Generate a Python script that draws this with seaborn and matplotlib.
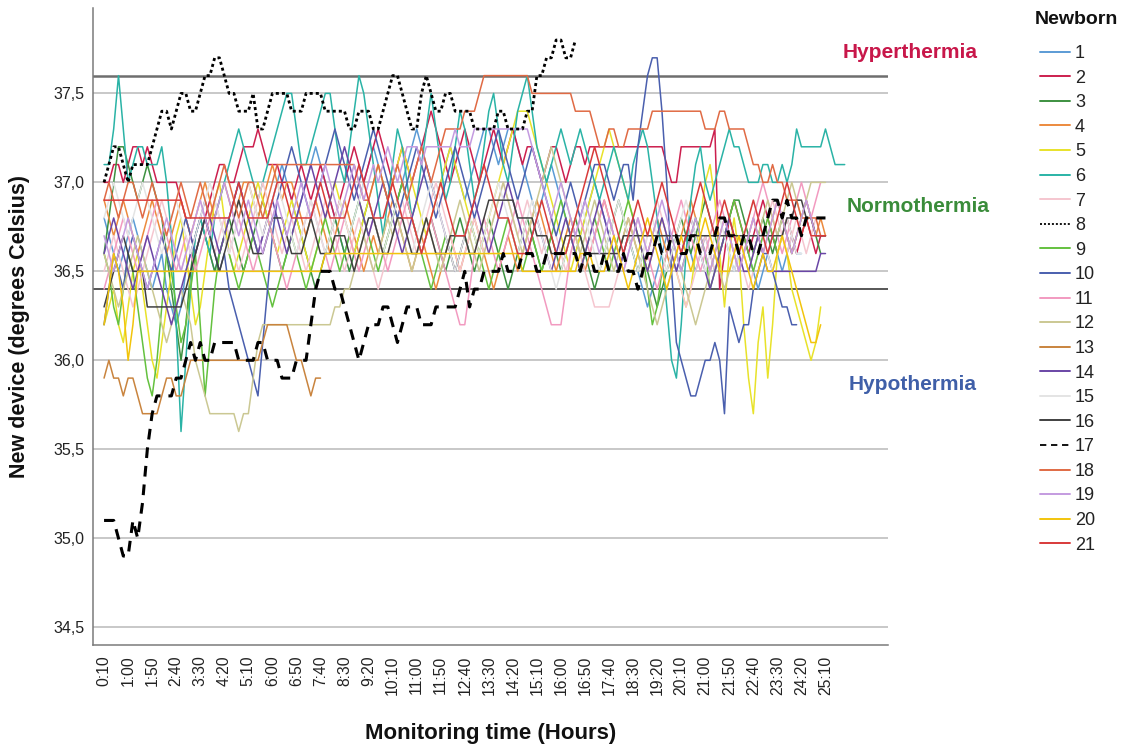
import matplotlib
matplotlib.use("Agg")
import matplotlib.pyplot as plt
import pandas as pd
import seaborn as sns
from matplotlib.lines import Line2D

# one reading every 10 minutes, first reading at 0:10
START_MIN = 10
STEP_MIN = 10

nb01 = [36.8, 36.7, 36.6, 36.5, 36.6, 36.7, 36.8, 36.7, 36.6, 36.5,
        36.4, 36.5, 36.6, 36.4, 36.3, 36.2, 36.3, 36.5, 36.6, 36.7,
        36.8, 36.7, 36.6, 36.5, 36.6, 36.7, 36.8, 36.9, 37.0, 36.9,
        36.8, 36.7, 36.6, 36.7, 36.8, 36.9, 37.0, 37.1, 37.0, 36.9,
        36.8, 36.9, 37.0, 37.1, 37.2, 37.1, 37.0, 36.9, 36.8, 36.7,
        36.6, 36.7, 36.8, 36.9, 37.0, 37.1, 37.2, 37.1, 37.0, 36.9,
        36.8, 36.9, 37.0, 37.1, 37.2, 37.3, 37.2, 37.1, 37.0, 36.9,
        37.0, 37.1, 37.2, 37.1, 37.0, 36.9, 37.0, 37.1, 37.2, 37.3,
        37.3, 37.2, 37.1, 37.2, 37.3, 37.3, 37.2, 37.1, 37.0, 36.9,
        36.8, 36.9, 37.0, 37.1, 37.0, 36.9, 36.8, 36.7, 36.6, 36.7,
        36.8, 36.9, 37.0, 36.9, 36.8, 36.7, 36.6, 36.5, 36.6, 36.7,
        36.6, 36.5, 36.4, 36.3, 36.4, 36.5, 36.6, 36.7, 36.6, 36.5,
        36.6, 36.7, 36.6, 36.5, 36.6, 36.7, 36.6, 36.5, 36.6, 36.7,
        36.6, 36.5, 36.6, 36.7, 36.6, 36.5, 36.4, 36.5, 36.6, 36.7,
        36.6, 36.5, 36.6, 36.7, 36.6, 36.6]

nb02 = [37.0, 37.0, 37.1, 37.1, 37.0, 37.1, 37.2, 37.2, 37.1, 37.2,
        37.1, 37.0, 37.0, 37.0, 37.0, 37.0, 36.9, 36.8, 36.7, 36.6,
        36.7, 36.8, 36.9, 37.0, 37.1, 37.1, 37.0, 37.0, 37.1, 37.2,
        37.2, 37.2, 37.3, 37.2, 37.1, 37.1, 37.1, 37.0, 37.0, 36.9,
        37.0, 37.1, 37.0, 36.9, 37.0, 37.1, 37.0, 36.9, 36.8, 36.9,
        37.0, 37.1, 37.2, 37.1, 37.0, 37.1, 37.2, 37.3, 37.2, 37.1,
        37.0, 37.1, 37.2, 37.1, 37.0, 37.1, 37.2, 37.3, 37.4, 37.3,
        37.2, 37.1, 37.0, 37.1, 37.2, 37.3, 37.2, 37.1, 37.0, 37.1,
        37.2, 37.3, 37.2, 37.1, 37.2, 37.3, 37.2, 37.1, 37.2, 37.2,
        37.1, 37.0, 37.1, 37.2, 37.2, 37.1, 37.0, 37.1, 37.2, 37.2,
        37.1, 37.2, 37.2, 37.2, 37.2, 37.2, 37.2, 37.2, 37.2, 37.2,
        37.2, 37.2, 37.2, 37.2, 37.2, 37.2, 37.2, 37.1, 37.0, 37.0,
        37.2, 37.2, 37.2, 37.2, 37.2, 37.2, 37.2, 37.3, 36.4, 36.6,
        36.8, 36.9, 36.8, 36.7, 36.6, 36.7, 36.8, 36.9, 36.8, 36.7,
        36.6, 36.7, 36.8, 36.7, 36.6, 36.7, 36.8, 36.7, 36.6, 36.7,
        36.7]

nb03 = [36.6, 36.8, 37.0, 37.2, 37.2, 37.1, 37.0, 36.9, 37.0, 37.1,
        37.0, 36.9, 36.8, 36.6, 36.4, 36.2, 36.0, 36.2, 36.5, 36.7,
        36.8, 36.7, 36.6, 36.5, 36.6, 36.7, 36.8, 36.7, 36.6, 36.5,
        36.6, 36.7, 36.8, 36.9, 36.8, 36.7, 36.6, 36.5, 36.6, 36.7,
        36.8, 36.7, 36.6, 36.5, 36.4, 36.5, 36.6, 36.7, 36.8, 36.7,
        36.6, 36.5, 36.6, 36.7, 36.8, 36.9, 36.8, 36.7, 36.6, 36.7,
        36.8, 36.9, 37.0, 36.9, 36.8, 36.7, 36.6, 36.7, 36.8, 36.7,
        36.6, 36.5, 36.6, 36.7, 36.8, 36.7, 36.6, 36.5, 36.6, 36.7,
        36.8, 36.7, 36.6, 36.5, 36.4, 36.5, 36.6, 36.7, 36.8, 36.7,
        36.6, 36.5, 36.6, 36.7, 36.6, 36.5, 36.6, 36.7, 36.8, 36.7,
        36.6, 36.5, 36.4, 36.5, 36.6, 36.7, 36.8, 36.9, 36.8, 36.7,
        36.6, 36.5, 36.6, 36.5, 36.4, 36.3, 36.4, 36.5, 36.6, 36.7,
        36.8, 36.7, 36.6, 36.7, 36.8, 36.9, 36.8, 36.7, 36.6, 36.7,
        36.8, 36.9, 36.9, 36.8, 36.7, 36.6, 36.7, 36.8, 36.7, 36.6,
        36.7, 36.8, 36.7, 36.6, 36.7, 36.8, 36.9, 36.8, 36.7, 36.6]

nb04 = [36.9, 36.8, 36.7, 36.8, 36.9, 36.8, 36.7, 36.6, 36.7, 36.8,
        36.9, 36.8, 36.7, 36.6, 36.7, 36.8, 36.9, 36.8, 36.7, 36.8,
        36.9, 37.0, 36.9, 36.8, 36.9, 37.0, 36.9, 36.8, 36.9, 37.0,
        37.0, 36.9, 36.8, 36.9, 37.0, 37.1, 37.0, 36.9, 37.0, 37.0,
        36.9, 36.8, 36.7, 36.8, 36.9, 36.8, 36.7, 36.6, 36.7, 36.8,
        36.9, 36.8, 36.7, 36.6, 36.5, 36.6, 36.7, 36.6, 36.7, 36.8,
        36.9, 36.8, 36.7, 36.6, 36.5, 36.6, 36.7, 36.6, 36.5, 36.4,
        36.5, 36.6, 36.7, 36.6, 36.5, 36.6, 36.7, 36.8, 36.7, 36.6,
        36.5, 36.4, 36.5, 36.6, 36.7, 36.6, 36.5, 36.6, 36.7, 36.8,
        36.9, 36.8, 36.7, 36.6, 36.5, 36.6, 36.7, 36.8, 36.7, 36.6,
        36.5, 36.6, 36.7, 36.8, 36.9, 36.8, 36.7, 36.6, 36.7, 36.8,
        36.7, 36.6, 36.5, 36.6, 36.7, 36.8, 36.7, 36.6, 36.5, 36.6,
        36.7, 36.8, 36.9, 36.8, 36.7, 36.6, 36.5, 36.6, 36.7, 36.8,
        36.7, 36.6, 36.5, 36.6, 36.7, 36.8, 36.7, 36.6, 36.7, 36.8,
        36.9, 36.8, 36.7, 36.6, 36.7, 36.8, 36.9, 36.8, 36.7, 36.8,
        36.7]

nb05 = [36.2, 36.3, 36.4, 36.2, 36.1, 36.3, 36.5, 36.6, 36.4, 36.2,
        36.0, 35.9, 36.1, 36.3, 36.5, 36.7, 36.8, 36.6, 36.4, 36.2,
        36.3, 36.5, 36.7, 36.9, 37.0, 36.8, 36.6, 36.5, 36.6, 36.7,
        36.8, 36.9, 37.0, 36.9, 36.8, 36.7, 36.6, 36.7, 36.8, 36.9,
        36.8, 36.7, 36.6, 36.5, 36.6, 36.7, 36.8, 36.9, 37.0, 36.9,
        36.8, 36.7, 36.6, 36.7, 36.8, 36.9, 37.0, 37.1, 37.0, 36.9,
        37.0, 37.1, 37.2, 37.1, 37.0, 36.9, 36.8, 36.7, 36.8, 36.9,
        37.0, 37.1, 37.2, 37.1, 37.0, 36.9, 36.8, 36.7, 36.6, 36.7,
        36.8, 36.9, 37.0, 37.1, 37.2, 37.3, 37.4, 37.4, 37.4, 37.3,
        37.2, 37.1, 37.0, 36.9, 36.8, 36.7, 36.6, 36.5, 36.6, 36.7,
        36.8, 36.9, 37.0, 37.1, 37.2, 37.3, 37.2, 37.1, 37.0, 36.9,
        36.8, 36.7, 36.6, 36.5, 36.6, 36.7, 36.8, 36.7, 36.6, 36.5,
        36.4, 36.3, 36.4, 36.6, 36.8, 37.0, 37.1, 36.9, 36.6, 36.3,
        36.6, 36.8, 36.6, 36.2, 35.9, 35.7, 36.1, 36.3, 35.9, 36.2,
        36.6, 36.7, 36.6, 36.4, 36.3, 36.2, 36.1, 36.0, 36.1, 36.3]

nb06 = [37.1, 37.1, 37.3, 37.6, 37.3, 37.0, 37.1, 37.2, 37.2, 37.1,
        37.1, 37.1, 37.2, 37.0, 36.7, 36.2, 35.6, 36.0, 36.4, 36.7,
        36.8, 36.7, 36.6, 36.8, 36.9, 37.0, 37.1, 37.2, 37.3, 37.2,
        37.1, 37.0, 36.9, 37.0, 37.1, 37.2, 37.3, 37.4, 37.5, 37.5,
        37.3, 37.1, 37.1, 37.2, 37.3, 37.4, 37.5, 37.5, 37.3, 37.1,
        37.0, 37.2, 37.4, 37.6, 37.5, 37.3, 37.1, 36.9, 36.7, 36.9,
        37.1, 37.3, 37.2, 37.0, 36.8, 36.9, 37.1, 37.3, 37.5, 37.3,
        37.1, 36.9, 37.0, 37.2, 37.4, 37.3, 37.1, 36.9, 37.0, 37.2,
        37.4, 37.5, 37.3, 37.1, 37.0, 37.2, 37.4, 37.5, 37.6, 37.4,
        37.2, 37.1, 37.0, 37.1, 37.2, 37.3, 37.2, 37.1, 37.2, 37.3,
        37.2, 37.1, 37.0, 36.9, 37.0, 37.1, 37.2, 37.1, 37.0, 36.9,
        37.1, 37.2, 37.3, 37.2, 37.0, 36.8, 36.6, 36.3, 36.0, 35.9,
        36.2, 36.6, 36.9, 37.1, 37.2, 37.0, 36.9, 37.0, 37.1, 37.2,
        37.3, 37.2, 37.2, 37.1, 37.0, 37.0, 37.0, 37.1, 37.1, 37.0,
        37.0, 37.1, 37.0, 37.1, 37.3, 37.2, 37.2, 37.2, 37.2, 37.2,
        37.3, 37.2, 37.1, 37.1, 37.1]

nb07 = [36.5, 36.6, 36.7, 36.6, 36.5, 36.4, 36.3, 36.4, 36.5, 36.6,
        36.7, 36.8, 36.9, 36.8, 36.7, 36.6, 36.5, 36.6, 36.7, 36.8,
        36.9, 36.8, 36.7, 36.6, 36.7, 36.8, 36.7, 36.6, 36.5, 36.6,
        36.7, 36.8, 36.9, 37.0, 36.9, 36.8, 36.7, 36.6, 36.7, 36.8,
        36.7, 36.6, 36.5, 36.6, 36.7, 36.8, 36.9, 36.8, 36.7, 36.6,
        36.5, 36.6, 36.7, 36.8, 36.7, 36.6, 36.5, 36.4, 36.5, 36.6,
        36.7, 36.8, 36.9, 36.8, 36.7, 36.6, 36.7, 36.8, 36.9, 37.0,
        36.9, 36.8, 36.7, 36.6, 36.5, 36.6, 36.7, 36.8, 36.7, 36.6,
        36.7, 36.8, 36.9, 37.0, 36.9, 36.8, 36.7, 36.8, 36.9, 36.8,
        36.7, 36.6, 36.7, 36.8, 36.7, 36.6, 36.5, 36.6, 36.7, 36.6,
        36.5, 36.4, 36.3, 36.3, 36.3, 36.3, 36.4, 36.5, 36.6, 36.7,
        36.8, 36.7, 36.6, 36.7, 36.8, 36.9, 36.8, 36.7, 36.6, 36.5,
        36.4, 36.3, 36.4, 36.5, 36.6, 36.7, 36.6, 36.5, 36.6, 36.7,
        36.8, 36.7, 36.6, 36.5, 36.4, 36.5, 36.6, 36.7, 36.8, 36.9,
        36.8, 36.7, 36.6, 36.7, 36.8, 36.7, 36.6, 36.7, 36.8]

nb08 = [37.0, 37.1, 37.2, 37.2, 37.1, 37.0, 37.1, 37.1, 37.1, 37.1,
        37.2, 37.3, 37.4, 37.4, 37.3, 37.4, 37.5, 37.5, 37.4, 37.4,
        37.5, 37.6, 37.6, 37.7, 37.7, 37.6, 37.5, 37.5, 37.4, 37.4,
        37.4, 37.5, 37.3, 37.3, 37.4, 37.5, 37.5, 37.5, 37.5, 37.4,
        37.4, 37.4, 37.5, 37.5, 37.5, 37.5, 37.4, 37.4, 37.4, 37.4,
        37.4, 37.3, 37.3, 37.4, 37.4, 37.4, 37.3, 37.3, 37.4, 37.5,
        37.6, 37.6, 37.5, 37.4, 37.3, 37.3, 37.5, 37.6, 37.5, 37.4,
        37.4, 37.5, 37.5, 37.4, 37.4, 37.4, 37.4, 37.3, 37.3, 37.3,
        37.3, 37.3, 37.4, 37.4, 37.3, 37.3, 37.3, 37.3, 37.4, 37.4,
        37.6, 37.6, 37.7, 37.7, 37.8, 37.8, 37.7, 37.7, 37.8]

nb09 = [36.6, 36.5, 36.3, 36.2, 36.4, 36.6, 36.5, 36.3, 36.1, 35.9,
        35.8, 36.0, 36.3, 36.6, 36.5, 36.3, 36.1, 36.2, 36.4, 36.6,
        36.2, 35.8, 36.1, 36.4, 36.6, 36.7, 36.6, 36.5, 36.4, 36.5,
        36.6, 36.7, 36.6, 36.5, 36.4, 36.3, 36.4, 36.5, 36.6, 36.7,
        36.6, 36.5, 36.4, 36.5, 36.6, 36.7, 36.8, 36.7, 36.6, 36.5,
        36.6, 36.7, 36.8, 36.9, 36.8, 36.7, 36.6, 36.5, 36.6, 36.7,
        36.8, 36.9, 37.0, 36.9, 36.8, 36.7, 36.6, 36.5, 36.4, 36.5,
        36.6, 36.7, 36.6, 36.5, 36.6, 36.7, 36.8, 36.7, 36.6, 36.5,
        36.4, 36.5, 36.6, 36.7, 36.8, 36.7, 36.6, 36.5, 36.6, 36.7,
        36.6, 36.5, 36.6, 36.7, 36.8, 36.9, 36.8, 36.7, 36.6, 36.5,
        36.6, 36.7, 36.8, 36.7, 36.6, 36.5, 36.6, 36.7, 36.8, 36.9,
        36.8, 36.7, 36.6, 36.4, 36.2, 36.3, 36.5, 36.6, 36.7, 36.6,
        36.5, 36.6, 36.7, 36.8, 36.7, 36.6, 36.4, 36.5, 36.6, 36.7,
        36.8, 36.9, 36.8, 36.7, 36.6, 36.5, 36.6, 36.7, 36.8, 36.7,
        36.6]

nb10 = [36.2, 36.4, 36.6, 36.5, 36.4, 36.6, 36.7, 36.6, 36.5, 36.4,
        36.5, 36.6, 36.7, 36.6, 36.5, 36.6, 36.7, 36.8, 36.7, 36.6,
        36.7, 36.8, 36.7, 36.6, 36.5, 36.6, 36.4, 36.3, 36.2, 36.1,
        36.0, 35.9, 35.8, 36.1, 36.4, 36.7, 36.9, 37.0, 37.1, 37.2,
        37.1, 37.0, 36.9, 36.8, 36.9, 37.0, 37.1, 37.2, 37.3, 37.2,
        37.1, 37.0, 36.9, 37.0, 37.1, 37.2, 37.3, 37.2, 37.1, 37.0,
        36.9, 36.8, 36.9, 37.0, 37.1, 37.2, 37.1, 37.0, 36.9, 36.8,
        36.9, 37.0, 37.1, 37.2, 37.1, 37.0, 36.9, 36.8, 36.9, 37.0,
        37.1, 37.2, 37.3, 37.2, 37.1, 37.0, 36.9, 37.0, 37.1, 37.2,
        37.1, 37.0, 36.9, 36.8, 36.7, 36.8, 36.9, 37.0, 36.9, 36.8,
        36.9, 37.0, 37.1, 37.1, 37.1, 37.0, 36.9, 37.0, 37.1, 37.1,
        36.9, 37.2, 37.4, 37.6, 37.7, 37.7, 37.4, 37.0, 36.5, 36.1,
        36.0, 35.9, 35.8, 35.8, 35.9, 36.0, 36.0, 36.1, 36.0, 35.7,
        36.3, 36.2, 36.1, 36.2, 36.2, 36.4, 36.5, 36.6, 36.6, 36.5,
        36.4, 36.3, 36.3, 36.2, 36.2]

nb11 = [36.4, 36.5, 36.6, 36.7, 36.8, 36.7, 36.6, 36.5, 36.6, 36.7,
        36.8, 36.9, 36.8, 36.7, 36.6, 36.5, 36.6, 36.7, 36.6, 36.5,
        36.6, 36.7, 36.8, 36.9, 36.8, 36.7, 36.6, 36.7, 36.8, 36.7,
        36.6, 36.5, 36.6, 36.7, 36.8, 36.7, 36.6, 36.5, 36.4, 36.5,
        36.6, 36.7, 36.8, 36.9, 36.8, 36.7, 36.6, 36.5, 36.6, 36.7,
        36.8, 36.7, 36.6, 36.5, 36.6, 36.7, 36.8, 36.7, 36.6, 36.5,
        36.6, 36.7, 36.8, 36.9, 36.8, 36.7, 36.6, 36.7, 36.8, 36.7,
        36.6, 36.5, 36.4, 36.3, 36.2, 36.2, 36.4, 36.6, 36.7, 36.8,
        36.7, 36.6, 36.5, 36.6, 36.7, 36.8, 36.9, 36.8, 36.7, 36.6,
        36.5, 36.4, 36.3, 36.2, 36.2, 36.2, 36.4, 36.6, 36.7, 36.8,
        36.7, 36.6, 36.7, 36.8, 36.9, 36.8, 36.7, 36.6, 36.5, 36.6,
        36.7, 36.8, 36.7, 36.6, 36.5, 36.4, 36.5, 36.6, 36.7, 36.8,
        36.9, 36.8, 36.7, 36.6, 36.5, 36.6, 36.7, 36.8, 36.9, 36.8,
        36.7, 36.6, 36.5, 36.6, 36.7, 36.8, 36.9, 37.0, 36.9, 36.8,
        36.7, 36.6, 36.7, 36.8, 36.9, 37.0, 36.9, 36.8, 36.9, 37.0]

nb12 = [36.6, 36.5, 36.4, 36.3, 36.4, 36.5, 36.6, 36.7, 36.6, 36.5,
        36.4, 36.3, 36.2, 36.1, 36.2, 36.3, 36.4, 36.3, 36.2, 36.0,
        35.9, 35.8, 35.7, 35.7, 35.7, 35.7, 35.7, 35.7, 35.6, 35.7,
        35.7, 35.9, 36.1, 36.2, 36.2, 36.2, 36.2, 36.2, 36.2, 36.2,
        36.2, 36.2, 36.2, 36.2, 36.2, 36.2, 36.2, 36.2, 36.3, 36.3,
        36.4, 36.4, 36.5, 36.6, 36.7, 36.6, 36.5, 36.6, 36.7, 36.8,
        36.7, 36.8, 36.7, 36.6, 36.5, 36.6, 36.7, 36.8, 36.7, 36.6,
        36.5, 36.6, 36.7, 36.8, 36.9, 36.8, 36.7, 36.6, 36.5, 36.6,
        36.7, 36.8, 36.9, 37.0, 36.9, 36.8, 36.7, 36.6, 36.7, 36.8,
        36.9, 37.0, 37.1, 37.2, 37.1, 37.0, 36.9, 36.8, 36.7, 36.6,
        36.7, 36.8, 36.9, 36.8, 36.7, 36.6, 36.5, 36.6, 36.7, 36.8,
        36.7, 36.6, 36.5, 36.4, 36.3, 36.2, 36.3, 36.4, 36.5, 36.6,
        36.5, 36.4, 36.3, 36.2, 36.3, 36.4, 36.5, 36.6, 36.5, 36.4,
        36.5, 36.6, 36.7, 36.6, 36.5, 36.6, 36.7, 36.8, 36.9, 36.8,
        36.7, 36.8, 36.9, 37.0, 36.9, 36.8, 36.9, 37.0, 37.0, 37.0,
        37.0]

nb13 = [35.9, 36.0, 35.9, 35.9, 35.8, 35.9, 35.9, 35.8, 35.7, 35.7,
        35.7, 35.7, 35.8, 35.9, 35.9, 35.8, 35.8, 35.9, 36.0, 36.0,
        36.0, 36.0, 36.0, 36.0, 36.0, 36.0, 36.0, 36.0, 36.0, 36.0,
        36.0, 36.0, 36.0, 36.1, 36.2, 36.2, 36.2, 36.2, 36.2, 36.1,
        36.0, 36.0, 35.9, 35.8, 35.9, 35.9]

nb14 = [36.6, 36.7, 36.8, 36.7, 36.6, 36.5, 36.4, 36.5, 36.6, 36.7,
        36.6, 36.5, 36.4, 36.3, 36.2, 36.3, 36.4, 36.5, 36.6, 36.7,
        36.8, 36.9, 36.8, 36.7, 36.6, 36.7, 36.8, 36.9, 37.0, 36.9,
        36.8, 36.7, 36.6, 36.7, 36.8, 36.9, 36.8, 36.7, 36.6, 36.7,
        36.8, 36.9, 37.0, 37.1, 37.0, 36.9, 36.8, 36.9, 37.0, 37.1,
        37.2, 37.1, 37.0, 36.9, 36.8, 36.7, 36.8, 36.9, 37.0, 36.9,
        36.8, 36.7, 36.6, 36.7, 36.8, 36.9, 37.0, 37.1, 37.0, 36.9,
        36.8, 36.7, 36.6, 36.5, 36.6, 36.7, 36.8, 36.9, 36.8, 36.7,
        36.6, 36.7, 36.8, 36.9, 37.0, 36.9, 36.8, 36.7, 36.6, 36.7,
        36.8, 36.7, 36.6, 36.5, 36.6, 36.7, 36.8, 36.7, 36.6, 36.5,
        36.6, 36.7, 36.8, 36.9, 36.8, 36.7, 36.6, 36.5, 36.6, 36.7,
        36.8, 36.7, 36.6, 36.5, 36.6, 36.7, 36.8, 36.7, 36.6, 36.5,
        36.6, 36.7, 36.8, 36.7, 36.6, 36.5, 36.4, 36.5, 36.6, 36.7,
        36.8, 36.7, 36.6, 36.5, 36.5, 36.6, 36.7, 36.6, 36.5, 36.5,
        36.5, 36.5, 36.5, 36.5, 36.5, 36.5, 36.5, 36.5, 36.5, 36.6,
        36.6]

nb15 = [36.8, 36.9, 37.0, 36.9, 36.8, 36.7, 36.8, 36.9, 37.0, 36.9,
        36.8, 36.7, 36.6, 36.7, 36.8, 36.9, 36.8, 36.7, 36.6, 36.7,
        36.8, 36.9, 37.0, 36.9, 36.8, 36.7, 36.6, 36.7, 36.8, 36.9,
        37.0, 36.9, 36.8, 36.7, 36.8, 36.9, 37.0, 36.9, 36.8, 36.7,
        36.6, 36.7, 36.8, 36.9, 36.8, 36.7, 36.6, 36.7, 36.8, 36.9,
        36.8, 36.7, 36.8, 36.9, 37.0, 36.9, 36.8, 36.7, 36.6, 36.7,
        36.8, 36.9, 36.8, 36.7, 36.6, 36.7, 36.8, 36.9, 37.0, 36.9,
        36.8, 36.7, 36.6, 36.5, 36.6, 36.7, 36.8, 36.7, 36.6, 36.7,
        36.8, 36.9, 37.0, 36.9, 36.8, 36.7, 36.6, 36.7, 36.8, 36.9,
        36.8, 36.7, 36.6, 36.5, 36.4, 36.5, 36.6, 36.7, 36.8, 36.9,
        36.8, 36.7, 36.6, 36.5, 36.6, 36.7, 36.8, 36.9, 36.8, 36.7,
        36.6, 36.5, 36.6, 36.7, 36.8, 36.7, 36.6, 36.5, 36.6, 36.7,
        36.8, 36.9, 36.8, 36.7, 36.6, 36.5, 36.6, 36.7, 36.8, 36.7,
        36.6, 36.5, 36.6, 36.7, 36.8, 36.9, 36.8, 36.7, 36.6, 36.5,
        36.6, 36.7, 36.8, 36.7, 36.6, 36.6]

nb16 = [36.3, 36.4, 36.5, 36.6, 36.7, 36.6, 36.5, 36.5, 36.5, 36.3,
        36.3, 36.3, 36.3, 36.3, 36.3, 36.3, 36.3, 36.4, 36.5, 36.6,
        36.7, 36.8, 36.7, 36.6, 36.5, 36.6, 36.7, 36.8, 36.9, 36.8,
        36.7, 36.6, 36.6, 36.6, 36.7, 36.8, 36.8, 36.8, 36.7, 36.6,
        36.6, 36.6, 36.7, 36.8, 36.7, 36.6, 36.6, 36.6, 36.7, 36.7,
        36.7, 36.6, 36.5, 36.6, 36.7, 36.8, 36.8, 36.7, 36.6, 36.6,
        36.7, 36.8, 36.8, 36.7, 36.6, 36.6, 36.7, 36.8, 36.7, 36.6,
        36.6, 36.6, 36.7, 36.7, 36.7, 36.7, 36.6, 36.6, 36.7, 36.8,
        36.9, 36.9, 36.9, 36.9, 36.9, 36.9, 36.8, 36.8, 36.8, 36.8,
        36.7, 36.7, 36.7, 36.6, 36.6, 36.6, 36.7, 36.7, 36.7, 36.7,
        36.6, 36.6, 36.6, 36.6, 36.6, 36.6, 36.6, 36.6, 36.7, 36.7,
        36.7, 36.7, 36.7, 36.7, 36.7, 36.7, 36.7, 36.7, 36.7, 36.7,
        36.7, 36.7, 36.7, 36.7, 36.7, 36.7, 36.7, 36.7, 36.7, 36.7,
        36.7, 36.7, 36.7, 36.7, 36.7, 36.7, 36.7, 36.7, 36.7, 36.7,
        36.7, 36.7, 36.8, 36.8, 36.9, 36.9, 36.8, 36.8, 36.7, 36.7,
        36.7]

nb17 = [35.1, 35.1, 35.1, 35.0, 34.9, 34.9, 35.1, 35.0, 35.2, 35.5,
        35.7, 35.8, 35.8, 35.8, 35.8, 35.9, 35.9, 36.0, 36.1, 36.0,
        36.1, 36.0, 36.0, 36.1, 36.1, 36.1, 36.1, 36.1, 36.0, 36.0,
        36.0, 36.0, 36.1, 36.1, 36.0, 36.0, 36.0, 35.9, 35.9, 35.9,
        36.0, 36.0, 36.0, 36.2, 36.4, 36.5, 36.5, 36.5, 36.4, 36.4,
        36.3, 36.2, 36.1, 36.0, 36.1, 36.2, 36.2, 36.2, 36.3, 36.3,
        36.2, 36.1, 36.2, 36.3, 36.3, 36.3, 36.2, 36.2, 36.2, 36.3,
        36.3, 36.3, 36.3, 36.3, 36.4, 36.5, 36.3, 36.4, 36.4, 36.5,
        36.5, 36.5, 36.5, 36.6, 36.5, 36.5, 36.5, 36.6, 36.6, 36.6,
        36.5, 36.5, 36.6, 36.6, 36.6, 36.6, 36.6, 36.6, 36.6, 36.5,
        36.6, 36.6, 36.5, 36.5, 36.6, 36.5, 36.5, 36.5, 36.6, 36.5,
        36.5, 36.4, 36.5, 36.6, 36.6, 36.7, 36.6, 36.6, 36.7, 36.7,
        36.6, 36.6, 36.7, 36.7, 36.6, 36.6, 36.6, 36.7, 36.8, 36.8,
        36.7, 36.7, 36.6, 36.7, 36.7, 36.6, 36.6, 36.7, 36.8, 36.9,
        36.9, 36.8, 36.9, 36.8, 36.8, 36.7, 36.8, 36.8, 36.8, 36.8,
        36.8]

nb18 = [36.9, 37.0, 36.9, 36.8, 36.9, 37.0, 37.0, 36.9, 36.8, 36.9,
        37.0, 36.9, 36.8, 36.7, 36.8, 36.9, 37.0, 36.9, 36.8, 36.9,
        37.0, 36.9, 36.8, 36.9, 37.0, 37.1, 37.0, 36.9, 36.8, 36.9,
        37.0, 37.0, 36.9, 36.8, 36.9, 37.0, 37.1, 37.1, 37.1, 37.1,
        37.1, 37.1, 37.1, 37.1, 37.1, 37.1, 37.1, 37.1, 37.1, 37.1,
        37.1, 37.1, 37.1, 37.0, 36.9, 36.9, 37.0, 37.1, 37.0, 36.9,
        37.0, 37.1, 37.0, 36.9, 37.0, 37.1, 37.2, 37.1, 37.0, 37.1,
        37.2, 37.3, 37.3, 37.3, 37.3, 37.4, 37.4, 37.4, 37.5, 37.6,
        37.6, 37.6, 37.6, 37.6, 37.6, 37.6, 37.6, 37.6, 37.6, 37.5,
        37.5, 37.5, 37.5, 37.5, 37.5, 37.5, 37.5, 37.5, 37.4, 37.4,
        37.4, 37.4, 37.3, 37.2, 37.2, 37.3, 37.3, 37.2, 37.2, 37.3,
        37.3, 37.3, 37.3, 37.3, 37.4, 37.4, 37.4, 37.4, 37.4, 37.4,
        37.4, 37.4, 37.4, 37.4, 37.4, 37.3, 37.3, 37.3, 37.4, 37.4,
        37.3, 37.3, 37.3, 37.3, 37.2, 37.1, 37.1, 37.0, 37.0, 37.1,
        37.0, 37.0, 36.9, 36.9, 36.9, 36.8, 36.8, 36.8, 36.8, 36.7]

nb19 = [36.7, 36.6, 36.5, 36.6, 36.7, 36.8, 36.7, 36.6, 36.5, 36.4,
        36.5, 36.6, 36.7, 36.8, 36.7, 36.6, 36.5, 36.6, 36.7, 36.8,
        36.9, 36.8, 36.7, 36.8, 36.9, 37.0, 36.9, 36.8, 36.7, 36.8,
        36.9, 36.8, 36.7, 36.6, 36.7, 36.8, 36.9, 36.8, 36.7, 36.8,
        36.9, 37.0, 36.9, 36.8, 36.9, 37.0, 37.1, 37.0, 36.9, 36.8,
        36.9, 37.0, 37.1, 37.0, 36.9, 37.0, 37.1, 37.0, 37.1, 37.2,
        37.1, 37.0, 37.1, 37.2, 37.2, 37.2, 37.1, 37.2, 37.2, 37.2,
        37.2, 37.2, 37.2, 37.3, 37.2, 37.2, 37.2, 37.3, 37.3, 37.3,
        37.3, 37.3, 37.3, 37.3, 37.3, 37.3, 37.3, 37.3, 37.3, 37.2,
        37.1, 37.0, 36.9, 36.8, 36.9, 37.0, 36.9, 36.8, 36.7, 36.8,
        36.9, 36.8, 36.7, 36.6, 36.7, 36.8, 36.7, 36.6, 36.5, 36.6,
        36.7, 36.8, 36.7, 36.6, 36.7, 36.8, 36.9, 36.8, 36.7, 36.6,
        36.5, 36.6, 36.7, 36.8, 36.7, 36.6, 36.5, 36.6, 36.7, 36.8,
        36.7, 36.6, 36.5, 36.6, 36.7, 36.8, 36.7, 36.6, 36.7, 36.8,
        36.9, 36.8, 36.7, 36.6, 36.7, 36.8, 36.9, 36.8, 36.7]

nb20 = [36.2, 36.4, 36.6, 36.5, 36.3, 36.0, 36.2, 36.5, 36.5, 36.5,
        36.5, 36.5, 36.5, 36.5, 36.5, 36.5, 36.5, 36.5, 36.5, 36.5,
        36.5, 36.5, 36.5, 36.5, 36.5, 36.5, 36.5, 36.5, 36.5, 36.5,
        36.5, 36.5, 36.5, 36.5, 36.5, 36.5, 36.5, 36.5, 36.5, 36.5,
        36.5, 36.5, 36.5, 36.5, 36.5, 36.5, 36.6, 36.6, 36.6, 36.6,
        36.6, 36.6, 36.6, 36.6, 36.6, 36.6, 36.6, 36.6, 36.6, 36.6,
        36.6, 36.6, 36.6, 36.6, 36.6, 36.6, 36.6, 36.6, 36.6, 36.6,
        36.6, 36.6, 36.6, 36.6, 36.6, 36.6, 36.6, 36.6, 36.6, 36.6,
        36.6, 36.6, 36.6, 36.6, 36.6, 36.6, 36.6, 36.5, 36.5, 36.5,
        36.5, 36.5, 36.5, 36.5, 36.5, 36.5, 36.5, 36.5, 36.5, 36.6,
        36.6, 36.6, 36.5, 36.5, 36.5, 36.6, 36.7, 36.6, 36.5, 36.4,
        36.5, 36.6, 36.7, 36.8, 36.7, 36.6, 36.5, 36.4, 36.5, 36.6,
        36.7, 36.6, 36.5, 36.6, 36.7, 36.8, 36.7, 36.6, 36.5, 36.5,
        36.5, 36.6, 36.7, 36.6, 36.5, 36.4, 36.5, 36.6, 36.5, 36.5,
        36.6, 36.7, 36.6, 36.5, 36.4, 36.3, 36.2, 36.1, 36.1, 36.2]

nb21 = [36.9, 36.9, 36.9, 36.9, 36.9, 36.9, 36.9, 36.9, 36.9, 36.9,
        36.9, 36.9, 36.9, 36.9, 36.9, 36.9, 36.9, 36.8, 36.8, 36.8,
        36.8, 36.8, 36.8, 36.8, 36.8, 36.8, 36.8, 36.9, 37.0, 36.9,
        36.8, 36.8, 36.8, 36.8, 36.8, 36.9, 37.0, 37.0, 36.9, 36.8,
        36.8, 36.8, 36.8, 36.8, 36.9, 37.0, 36.9, 36.8, 36.8, 36.8,
        36.8, 36.9, 37.0, 37.1, 37.0, 36.9, 36.8, 36.8, 36.8, 36.9,
        37.0, 36.9, 36.8, 36.8, 36.8, 36.7, 36.6, 36.7, 36.8, 36.9,
        37.0, 36.9, 36.8, 36.7, 36.7, 36.7, 36.8, 36.9, 37.0, 37.1,
        37.0, 36.9, 36.8, 36.8, 36.8, 36.7, 36.6, 36.6, 36.6, 36.7,
        36.8, 36.9, 36.8, 36.7, 36.6, 36.6, 36.6, 36.7, 36.8, 36.9,
        37.0, 37.1, 37.2, 37.1, 37.0, 36.9, 36.8, 36.7, 36.6, 36.7,
        36.8, 36.9, 36.8, 36.7, 36.8, 36.9, 37.0, 36.9, 36.8, 36.7,
        36.6, 36.7, 36.8, 36.9, 37.0, 36.9, 36.8, 36.7, 36.8, 36.9,
        36.8, 36.7, 36.6, 36.7, 36.8, 36.9, 36.8, 36.7, 36.6, 36.7,
        36.8, 36.9, 37.0, 36.9, 36.8, 36.7, 36.8, 36.7, 36.7, 36.7,
        36.7]

newborns = ["1", "2", "3", "4", "5", "6", "7", "8", "9", "10", "11",
            "12", "13", "14", "15", "16", "17", "18", "19", "20", "21"]
series = [nb01, nb02, nb03, nb04, nb05, nb06, nb07, nb08, nb09, nb10, nb11,
          nb12, nb13, nb14, nb15, nb16, nb17, nb18, nb19, nb20, nb21]

colors = ["#5b9bd5", "#cc1f4e", "#3d9140", "#ec8a3e", "#e8e22a", "#2ab3a6",
          "#f5c6cf", "#000000", "#64c13f", "#4a5fae", "#f29ac0", "#cbc893",
          "#c9843e", "#6a46a6", "#e4e4e4", "#404040", "#000000", "#e06a44",
          "#c49be0", "#f2c40c", "#d83a3a"]

tick_labels = ["0:10", "1:00", "1:50", "2:40", "3:30", "4:20", "5:10", "6:00",
               "6:50", "7:40", "8:30", "9:20", "10:10", "11:00", "11:50",
               "12:40", "13:30", "14:20", "15:10", "16:00", "16:50", "17:40",
               "18:30", "19:20", "20:10", "21:00", "21:50", "22:40", "23:30",
               "24:20", "25:10"]
y_ticks = [34.5, 35.0, 35.5, 36.0, 36.5, 37.0, 37.5]
limits = [37.6, 36.4]
zone_names = ["Hyperthermia", "Normothermia", "Hypothermia"]
zone_colors = ["#c8174a", "#3a8c3a", "#3f5fa8"]

# long-form table
rows = []
for name, vals in zip(newborns, series):
    for i, v in enumerate(vals):
        rows.append((name, START_MIN + STEP_MIN * i, v))
df = pd.DataFrame(rows, columns=["Newborn", "minutes", "temp"])

sns.set_theme(style="white")
plt.rcParams["font.family"] = ["Liberation Sans", "DejaVu Sans"]

W, H = 1128, 746
fig = plt.figure(figsize=(W / 100, H / 100), dpi=100)
fig.patch.set_facecolor("white")
ax = fig.add_axes([93 / W, 1 - 645 / H, (888 - 93) / W, (645 - 8) / H])

for yv in y_ticks:
    ax.axhline(yv, color="#c4c4c4", lw=1.3, zorder=0)
ax.axhline(limits[0], color="#6e6e6e", lw=1.8, zorder=1)
ax.axhline(limits[1], color="#3a3a3a", lw=1.2, zorder=1)

handles = []
for name, col in zip(newborns, colors):
    sub = df[df["Newborn"] == name]
    if name == "8":
        ls, lw = (0, (1.1, 1.1)), 2.0
    elif name == "17":
        ls, lw = (0, (3.5, 2.6)), 2.2
    else:
        ls, lw = "-", 1.1
    sns.lineplot(data=sub, x="minutes", y="temp", ax=ax, color=col,
                 linestyle=ls, linewidth=lw, estimator=None, sort=False,
                 legend=False, zorder=3 if name in ("8", "17") else 2)
    handles.append(Line2D([0], [0], color=col, linestyle=ls,
                          linewidth=1.3 if lw > 1.5 else 1.4))

tick_pos = [START_MIN + 50 * k for k in range(len(tick_labels))]
ax.set_xticks(tick_pos)
ax.set_xticklabels(tick_labels, rotation=90, fontsize=11.3)
ax.set_yticks(y_ticks)
ax.set_yticklabels([f"{v:.1f}".replace(".", ",") for v in y_ticks],
                   fontsize=11.5)
ax.set_xlim(START_MIN - 2.3 * STEP_MIN, START_MIN + 163 * STEP_MIN)
ax.set_ylim(34.40, 37.98)

ax.tick_params(axis="x", direction="inout", length=9, width=1, color="#a0a0a0",
               pad=3, labelcolor="#222222")
ax.tick_params(axis="y", length=0, pad=6, labelcolor="#222222")
for s in ["top", "right"]:
    ax.spines[s].set_visible(False)
for s in ["left", "bottom"]:
    ax.spines[s].set_color("#7a7a7a")
    ax.spines[s].set_linewidth(1.1)

ax.set_xlabel("Monitoring time (Hours)", fontsize=16, fontweight="bold",
              color="#111111")
ax.xaxis.set_label_coords(0.5, -(723 - 645) / (645 - 8))
ax.set_ylabel("New device (degrees Celsius)", fontsize=15.5, fontweight="bold",
              color="#111111")
ax.yaxis.set_label_coords(-(93 - 30) / (888 - 93), 0.5)

zone_y = [52, 206, 385]
zone_x = [843, 847, 849]
for name, col, xp, yp in zip(zone_names, zone_colors, zone_x, zone_y):
    fig.text(xp / W, 1 - yp / H, name, color=col, fontsize=15,
             fontweight="bold", va="center", ha="left")

fig.text(1035 / W, 1 - 20 / H, "Newborn", fontsize=14, fontweight="bold",
         color="#111111", va="center", ha="left")
leg = fig.legend(handles, newborns, loc="upper left",
                 bbox_to_anchor=(1040 / W, 1 - 45 / H), frameon=False,
                 fontsize=13, handlelength=1.66, handletextpad=0.28,
                 labelspacing=0.42, borderaxespad=0, borderpad=0)
for t in leg.get_texts():
    t.set_color("#222222")

fig.savefig("out.png", dpi=100, facecolor="white")
